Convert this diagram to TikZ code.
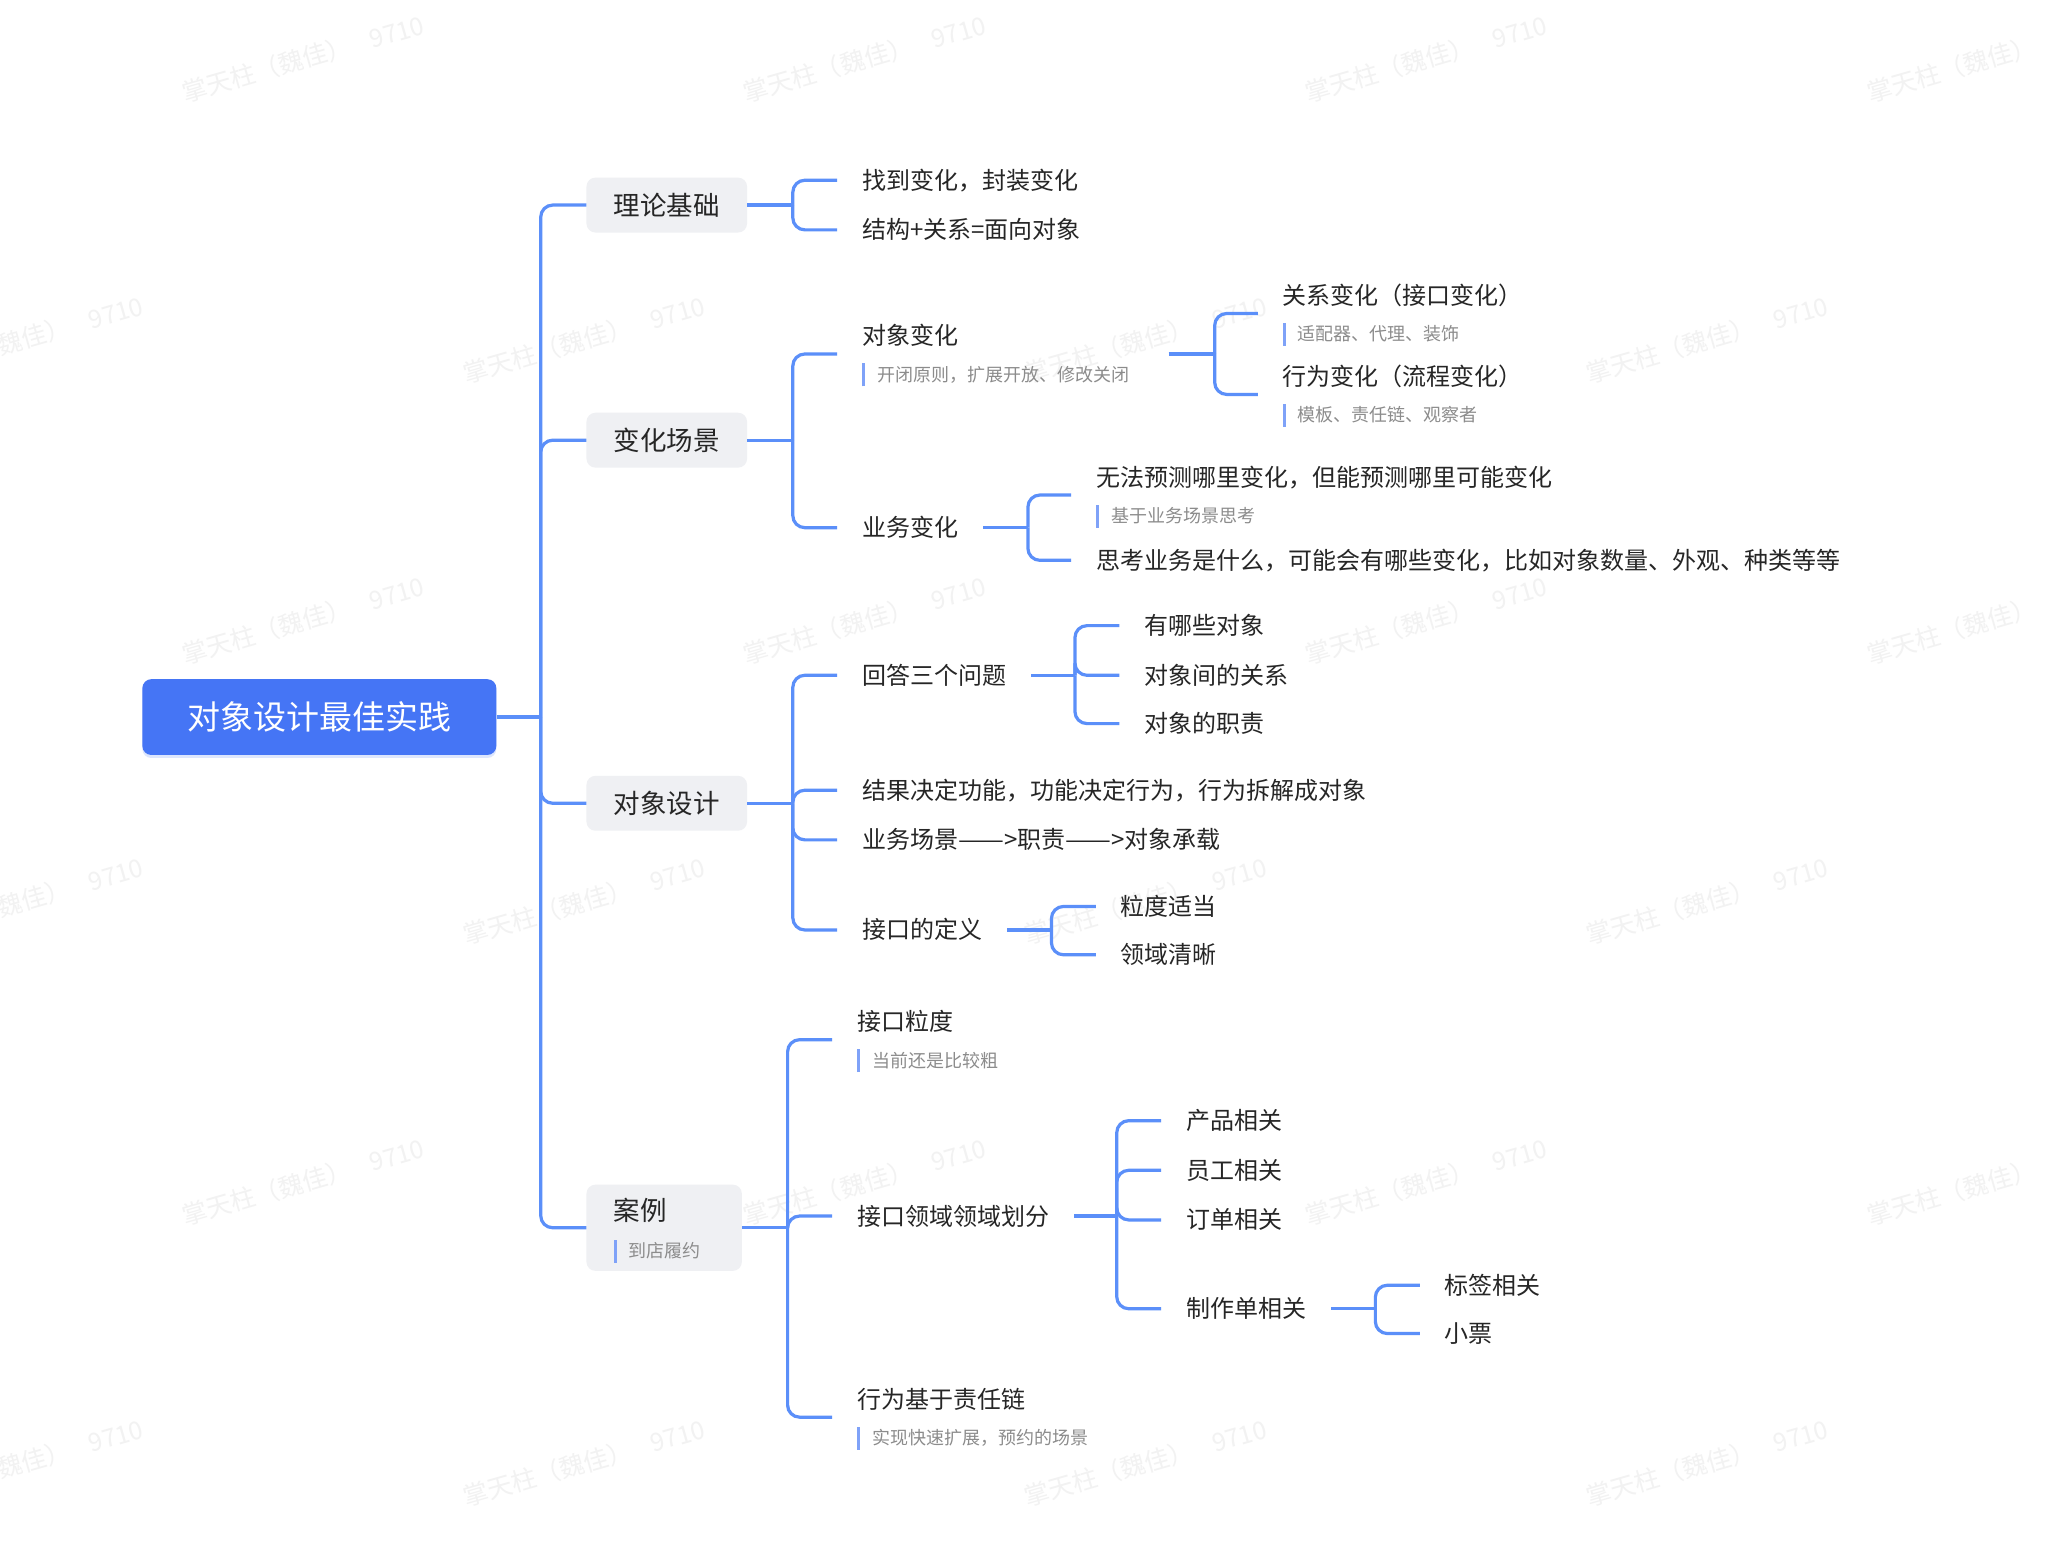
\documentclass[tikz,border=0pt]{standalone}
\usepackage{fontspec}
\usepackage{graphicx}
\newfontfamily\cjk{Noto Sans CJK SC}
\usetikzlibrary{shadows,calc}
\definecolor{linec}{HTML}{5B8FF9}
\definecolor{rootc}{HTML}{4575F5}
\definecolor{boxc}{HTML}{EFF0F3}
\definecolor{txtc}{HTML}{262626}
\definecolor{subc}{HTML}{8C8C8C}
\definecolor{barc}{HTML}{7FA2F8}
\definecolor{wmc}{HTML}{F2F2F2}
\newcommand\kidfont{\cjk\fontsize{24}{30}\selectfont}
\newcommand\mysubfont{\cjk\fontsize{18}{22}\selectfont}
\newcommand\subl[1]{{\color{barc}\rule[-5pt]{3pt}{23pt}}\hspace{12pt}{\mysubfont\color{subc}#1}}
\newcommand\tsub[2]{\begin{tabular}[t]{@{}l@{}}#1\\[6.5pt]\subl{#2}\end{tabular}}
\newcommand\longdash{\scalebox{1.14}[1]{——}}
\tikzset{
  wire/.style={draw=linec, line width=3.2pt},
  elbow/.style={wire, rounded corners=12pt},
  kid/.style={anchor=west, inner xsep=24.8pt, inner ysep=0pt, text=txtc, font=\kidfont, text height=21pt, text depth=3pt},
  kidsub/.style={kid, text height=21pt, text depth=39pt},
  br/.style={rectangle, rounded corners=9pt, fill=boxc, text=txtc, font=\cjk\fontsize{26.5}{32}\selectfont, minimum width=160.6pt, minimum height=54.9pt, inner sep=0pt, text height=23pt, text depth=3pt},
  rootbox/.style={rectangle, rounded corners=9pt, fill=rootc, text=white, font=\cjk\fontsize{33}{40}\selectfont, minimum width=354pt, minimum height=75.8pt, inner sep=0pt, text height=29pt, text depth=4pt, drop shadow={shadow xshift=0pt, shadow yshift=-3pt, opacity=0.18, fill=rootc}},
  wm/.style={rotate=16, text=wmc, font=\cjk\fontsize{25}{25}\selectfont, inner sep=0pt}
}
\begin{document}
\begin{tikzpicture}[x=1.30612pt, y=-1.30612pt]
\useasboundingbox (0,0) rectangle (1568,1188);
\fill[white] (0,0) rectangle (1568,1188);
% watermarks
\foreach \yy/\off [count=\r] in {45/0,260/1,475/0,690/1,905/0,1120/1}{
  \foreach \xx [count=\c] in {232,662,1092,1522}{
    \node[wm] (wm\r-\c) at (\xx-215*\off,\yy) {掌天柱（魏佳）\hspace{20pt}9710};
  }
}
% root and branches
\node[rootbox] (root) at (244.5,549) {对象设计最佳实践};
\coordinate (J0) at (414,549);
\node[br] (b1) at (510.5,157) {理论基础};
\node[br] (b2) at (510.5,337) {变化场景};
\node[br] (b3) at (510.5,615) {对象设计};
\node[br, minimum width=155.4pt, minimum height=86.2pt, text height=23pt, text depth=38.4pt] (b4) at (508.5,940)
  {\makebox[100.6pt][l]{\begin{tabular}[t]{@{}l@{}}案例\\[5.7pt]\subl{到店履约}\end{tabular}}};
\draw[wire] (root.east) -- (J0);
\foreach \b in {b1,b2,b3,b4} \draw[elbow] (J0) |- (\b.west);

% 理论基础
\coordinate (J1) at (607,157);
\node[kid] (k11) at (641,138) {找到变化，封装变化};
\node[kid] (k12) at (641,176) {结构+关系=面向对象};
\draw[wire] (b1.east) -- (J1);
\foreach \k in {k11,k12} \draw[elbow] (J1) |- (\k.west);

% 变化场景
\coordinate (J2) at (607,337);
\node[kidsub] (k21) at (641,271) {\tsub{对象变化}{开闭原则，扩展开放、修改关闭}};
\node[kid] (k22) at (641,404) {业务变化};
\draw[wire] (b2.east) -- (J2);
\foreach \k in {k21,k22} \draw[elbow] (J2) |- (\k.west);

\coordinate (J21) at (930,271);
\node[kidsub] (k211) at (963,240) {\tsub{关系变化（接口变化）}{适配器、代理、装饰}};
\node[kidsub] (k212) at (963,302) {\tsub{行为变化（流程变化）}{模板、责任链、观察者}};
\draw[wire] ($(k21.east)+(11,0)$) -- (J21);
\foreach \k in {k211,k212} \draw[elbow] (J21) |- (\k.west);

\coordinate (J22) at (787,404);
\node[kidsub] (k221) at (820,379) {\tsub{无法预测哪里变化，但能预测哪里可能变化}{基于业务场景思考}};
\node[kid] (k222) at (820,429) {思考业务是什么，可能会有哪些变化，比如对象数量、外观、种类等等};
\draw[wire] (k22.east) -- (J22);
\foreach \k in {k221,k222} \draw[elbow] (J22) |- (\k.west);

% 对象设计
\coordinate (J3) at (607,615);
\node[kid] (k31) at (641,517) {回答三个问题};
\node[kid] (k32) at (641,605) {结果决定功能，功能决定行为，行为拆解成对象};
\node[kid] (k33) at (641,643) {业务场景\longdash>职责\longdash>对象承载};
\node[kid] (k34) at (641,712) {接口的定义};
\draw[wire] (b3.east) -- (J3);
\foreach \k in {k31,k32,k33,k34} \draw[elbow] (J3) |- (\k.west);

\coordinate (J31) at (823,517);
\node[kid] (k311) at (857,479) {有哪些对象};
\node[kid] (k312) at (857,517) {对象间的关系};
\node[kid] (k313) at (857,554) {对象的职责};
\draw[wire] (k31.east) -- (J31);
\foreach \k in {k311,k312,k313} \draw[elbow] (J31) |- (\k.west);

\coordinate (J34) at (805,712);
\node[kid] (k341) at (839,694) {粒度适当};
\node[kid] (k342) at (839,731) {领域清晰};
\draw[wire] (k34.east) -- (J34);
\foreach \k in {k341,k342} \draw[elbow] (J34) |- (\k.west);

% 案例
\coordinate (J4) at (603,940);
\node[kidsub] (k41) at (637,796) {\tsub{接口粒度}{当前还是比较粗}};
\node[kid] (k42) at (637,931) {接口领域领域划分};
\node[kidsub] (k43) at (637,1085) {\tsub{行为基于责任链}{实现快速扩展，预约的场景}};
\draw[wire] (b4.east) -- (J4);
\foreach \k in {k41,k42,k43} \draw[elbow] (J4) |- (\k.west);

\coordinate (J42) at (855,931);
\node[kid] (k421) at (889,858) {产品相关};
\node[kid] (k422) at (889,896) {员工相关};
\node[kid] (k423) at (889,934) {订单相关};
\node[kid] (k424) at (889,1002) {制作单相关};
\draw[wire] (k42.east) -- (J42);
\foreach \k in {k421,k422,k423,k424} \draw[elbow] (J42) |- (\k.west);

\coordinate (J424) at (1053,1002);
\node[kid] (k4241) at (1087,984) {标签相关};
\node[kid] (k4242) at (1087,1021) {小票};
\draw[wire] (k424.east) -- (J424);
\foreach \k in {k4241,k4242} \draw[elbow] (J424) |- (\k.west);
\end{tikzpicture}
\end{document}
